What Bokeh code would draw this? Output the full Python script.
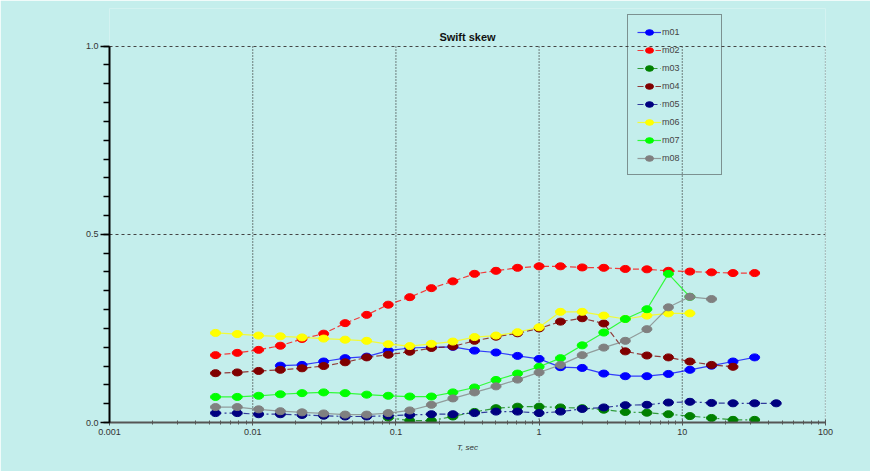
from bokeh.plotting import figure
from bokeh.models import (Legend, LegendItem, FixedTicker, Range1d,
                          ColumnDataSource, Label)
from bokeh.embed import file_html
from bokeh.resources import INLINE

# Periods T (s) on a half-octave grid
periods = [0.0055, 0.0078, 0.011, 0.0156, 0.0221, 0.0313, 0.0442, 0.0625,
           0.0884, 0.125, 0.177, 0.25, 0.354, 0.5, 0.707, 1.0, 1.41, 2.0,
           2.83, 4.0, 5.66, 8.0, 11.3, 16.0, 22.6, 32.0, 45.3]

N = None
m01 = [N, N, N, 0.151, 0.153, 0.162, 0.171, 0.175, 0.191, 0.198, 0.200,
       0.201, 0.191, 0.186, 0.177, 0.169, 0.147, 0.145, 0.130, 0.123, 0.123,
       0.129, 0.140, 0.151, 0.162, 0.173, N]
m02 = [0.179, 0.185, 0.193, 0.204, 0.222, 0.236, 0.264, 0.286, 0.313, 0.333,
       0.357, 0.375, 0.395, 0.403, 0.411, 0.415, 0.415, 0.412, 0.411, 0.408,
       0.407, 0.403, 0.401, 0.399, 0.397, 0.397, N]
m03 = [N, N, N, N, N, N, N, N, 0.013, 0.005, 0.005, 0.016, 0.028, 0.038,
       0.042, 0.042, 0.040, 0.038, 0.034, 0.028, 0.026, 0.022, 0.017, 0.012,
       0.007, 0.007, N]
m04 = [0.131, 0.133, 0.137, 0.140, 0.144, 0.150, 0.160, 0.173, 0.180, 0.188,
       0.198, 0.202, 0.217, 0.228, 0.237, 0.250, 0.268, 0.277, 0.263, 0.189,
       0.178, 0.173, 0.162, 0.153, 0.148, N, N]
m05 = [0.025, 0.025, 0.022, 0.022, 0.020, 0.018, 0.016, 0.016, 0.018, 0.020,
       0.022, 0.022, 0.025, 0.029, 0.029, 0.025, 0.029, 0.036, 0.040, 0.046,
       0.047, 0.053, 0.055, 0.052, 0.051, 0.051, 0.051]
m06 = [0.238, 0.235, 0.231, 0.229, 0.226, 0.223, 0.220, 0.217, 0.208, 0.203,
       0.209, 0.215, 0.227, 0.231, 0.240, 0.253, 0.294, 0.294, 0.284, 0.275,
       0.284, 0.290, 0.290, N, N, N, N]
m07 = [0.068, 0.068, 0.071, 0.075, 0.078, 0.080, 0.078, 0.074, 0.071, 0.069,
       0.069, 0.080, 0.093, 0.113, 0.130, 0.148, 0.171, 0.205, 0.239, 0.275,
       0.301, 0.395, 0.334, N, N, N, N]
m08 = [0.041, 0.041, 0.035, 0.030, 0.027, 0.024, 0.021, 0.021, 0.025, 0.032,
       0.047, 0.064, 0.080, 0.096, 0.114, 0.133, 0.153, 0.179, 0.199, 0.217,
       0.248, 0.306, 0.334, 0.328, N, N, N]

series_names = ["m01", "m02", "m03", "m04", "m05", "m06", "m07", "m08"]
series_values = [m01, m02, m03, m04, m05, m06, m07, m08]
series_colors = ["#0000FF", "#FF0000", "#008000", "#800000",
                 "#000080", "#FFFF00", "#00FF00", "#808080"]
series_dashes = ["solid", "6 3", "6 3 2 3", "6 3",
                 "6 3 2 3", "solid", "solid", "solid"]

x_ticks = [0.001, 0.01, 0.1, 1, 10, 100]
x_tick_labels = ["0.001", "0.01", "0.1", "1", "10", "100"]
y_ticks = [0.0, 0.5, 1.0]
y_tick_labels = ["0.0", "0.5", "1.0"]

BG = "#C4EEEC"
FONT = "Liberation Sans"

# The frame reaches a little above 1.0 so the legend box can sit there;
# the axis line and grid lines stop at 1.0.
p = figure(width=870, height=471, x_axis_type="log",
           x_range=Range1d(0.001, 100), y_range=Range1d(0, 1.1),
           output_backend="svg", toolbar_location=None,
           min_border_left=109, min_border_right=45,
           min_border_top=8, min_border_bottom=49,
           background_fill_color=BG, border_fill_color=BG,
           outline_line_color=None)

# x axis (log)
minor_x = [m * 10.0 ** e for e in range(-3, 2) for m in range(2, 10)]
p.xaxis.ticker = FixedTicker(ticks=x_ticks, minor_ticks=minor_x)
p.xaxis.major_label_overrides = dict(zip(x_ticks, x_tick_labels))
p.xaxis.axis_label = "T, sec"
p.xaxis.axis_label_text_font = FONT
p.xaxis.axis_label_text_font_size = "8px"
p.xaxis.axis_label_text_font_style = "italic"
p.xaxis.axis_label_text_color = "#333333"
p.xaxis.axis_label_standoff = 5
p.xaxis.axis_line_color = "#555555"
p.xaxis.axis_line_width = 2
p.xaxis.major_tick_in = 3
p.xaxis.major_tick_out = 3
p.xaxis.minor_tick_in = 2
p.xaxis.minor_tick_out = 2
p.xaxis.major_tick_line_color = "#555555"
p.xaxis.minor_tick_line_color = "#555555"
p.xaxis.major_label_text_font = FONT
p.xaxis.major_label_text_font_size = "9px"
p.xaxis.major_label_text_color = "#333333"
p.xaxis.major_label_standoff = 3

# y axis
minor_y = [i * 0.05 for i in range(21)]
p.yaxis.ticker = FixedTicker(ticks=y_ticks, minor_ticks=minor_y)
p.yaxis.major_label_overrides = dict(zip(y_ticks, y_tick_labels))
p.yaxis.bounds = (y_ticks[0], y_ticks[-1])
p.yaxis.axis_line_color = "#000000"
p.yaxis.axis_line_width = 2
p.yaxis.major_tick_in = 0
p.yaxis.major_tick_out = 9
p.yaxis.minor_tick_in = 0
p.yaxis.minor_tick_out = 6
p.yaxis.major_tick_line_color = "#000000"
p.yaxis.minor_tick_line_color = "#000000"
p.yaxis.major_tick_line_width = 1.5
p.yaxis.minor_tick_line_width = 1.5
p.yaxis.major_label_text_font = FONT
p.yaxis.major_label_text_font_size = "9px"
p.yaxis.major_label_text_color = "#333333"
p.yaxis.major_label_standoff = 2

# grids: dashed horizontals, dotted verticals at decades (0 .. 1.0 only)
p.xgrid.visible = False
p.ygrid.ticker = FixedTicker(ticks=y_ticks[1:])
p.ygrid.grid_line_color = "#444444"
p.ygrid.grid_line_dash = "3 3"
p.ygrid.grid_line_width = 1
dec = x_ticks[1:]
p.segment(x0=dec, y0=[y_ticks[0]] * len(dec), x1=dec,
          y1=[y_ticks[-1]] * len(dec), line_color="#333333",
          line_dash="1 2", line_width=1.2)

# title, centred over the frame just above 1.0
p.add_layout(Label(x=(x_ticks[0] * x_ticks[-1]) ** 0.5, y=y_ticks[-1],
                   text="Swift skew", text_align="center",
                   text_baseline="bottom", y_offset=3,
                   text_font=FONT, text_font_size="11px",
                   text_font_style="bold", text_color="#111111"))

items = []
for name, vals, col, dash in zip(series_names, series_values,
                                  series_colors, series_dashes):
    xs = [t for t, v in zip(periods, vals) if v is not None]
    ys = [v for v in vals if v is not None]
    src = ColumnDataSource(data=dict(x=xs, y=ys))
    ln = p.line("x", "y", source=src, line_color=col, line_width=1.2,
                line_alpha=0.75, line_dash=dash)
    mk = p.ellipse("x", "y", width=10, height=7, width_units="screen",
                   height_units="screen", source=src,
                   fill_color=col, line_color=col)
    items.append(LegendItem(label=name, renderers=[ln, mk]))

legend = Legend(items=items, location=(518, 247))
legend.label_text_font = FONT
legend.label_text_font_size = "9px"
legend.label_text_color = "#444444"
legend.border_line_color = "#333333"
legend.border_line_width = 1.5
legend.background_fill_alpha = 0
legend.glyph_width = 24
legend.glyph_height = 10
legend.label_height = 15
legend.label_width = 50
legend.spacing = 3
legend.padding = 9
legend.margin = 0
legend.label_standoff = 1
p.add_layout(legend)

open("out.html", "w").write(file_html(p, INLINE))
